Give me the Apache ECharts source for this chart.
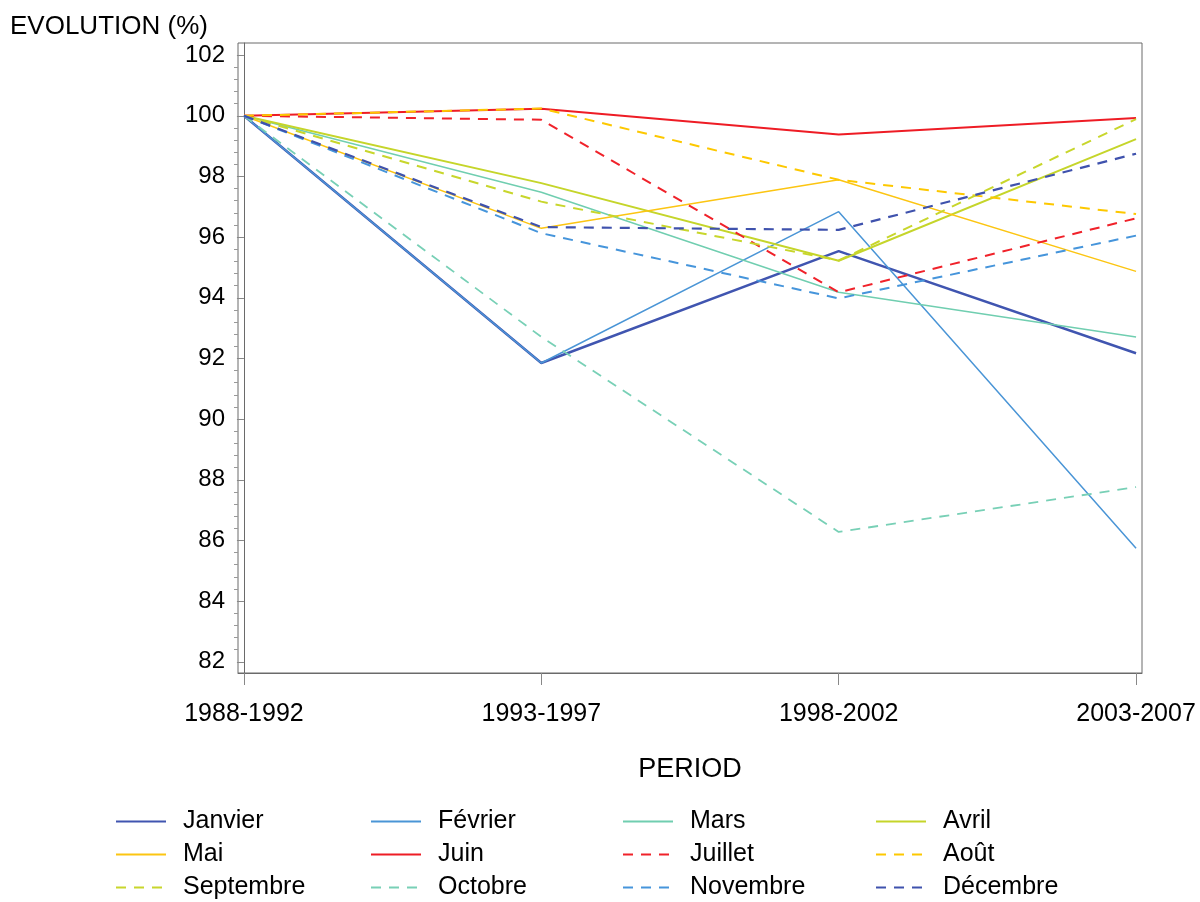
<!DOCTYPE html>
<html><head><meta charset="utf-8">
<script src="https://cdn.jsdelivr.net/npm/echarts@6/dist/echarts.min.js"></script>
<style>html,body{margin:0;padding:0;background:#fff}#c{width:1200px;height:902px}</style>
</head><body><div id="c"></div>
<script>
const periods = ['1988-1992','1993-1997','1998-2002','2003-2007'];
const yTicks = [82,84,86,88,90,92,94,96,98,100,102];
const months = ['Janvier','Février','Mars','Avril','Mai','Juin','Juillet','Août','Septembre','Octobre','Novembre','Décembre'];
const janvier   = [100, 91.85, 95.54, 92.17];
const fevrier   = [100, 91.85, 96.84, 85.74];
const mars      = [100, 97.48, 94.18, 92.71];
const avril     = [100, 97.78, 95.22, 99.23];
const mai       = [100, 96.29, 97.89, 94.87];
const juin      = [100, 100.23, 99.38, 99.93];
const juillet   = [100, 99.87, 94.18, 96.62];
const aout      = [100, 100.24, 97.89, 96.76];
const septembre = [100, 97.17, 95.23, 99.89];
const octobre   = [100, 92.71, 86.28, 87.76];
const novembre  = [100, 96.13, 93.98, 96.05];
const decembre  = [100, 96.33, 96.24, 98.75];
const values = [janvier,fevrier,mars,avril,mai,juin,juillet,aout,septembre,octobre,novembre,decembre];
const colors = ['#4055b0','#4a95d6','#70ceb0','#c5d52a','#fcc512','#ee1c25','#f0222a','#fdc800','#c8d62c','#78d0b6','#4695db','#3f52ad'];
const dashed = [false,false,false,false,false,false,true,true,true,true,true,true];
const widths = [2.5,1.5,1.5,2,1.5,2,2,2,2,1.8,2,2.2];

const minorTicks = [];
for (let v = 82; v < 102; v += 0.4) { const r = Math.round(v*10)/10; if (Math.abs(r/2 - Math.round(r/2)) > 1e-6) minorTicks.push(r); }

const FONT = 'Liberation Sans';
const series = months.map((m,i)=>({
  name:m, type:'line', symbol:'none', silent:true, animation:false,
  data: values[i].map((v,j)=>[j,v]),
  lineStyle:{color:colors[i], width:widths[i], type: dashed[i]?[10,8]:'solid'},
  itemStyle:{color:colors[i]}
}));
const cols = [[0,4,8],[1,5,9],[2,6,10],[3,7,11]];
const colLeft = [115,370,622,875];
const legends = cols.map((c,k)=>({
  orient:'vertical', left:colLeft[k], top:809, height:120, padding:0,
  itemWidth:50, itemHeight:14, itemGap:8,
  data:c.map(i=>months[i]), selectedMode:false,
  itemStyle:{opacity:0},
  textStyle:{fontFamily:FONT, fontSize:25, color:'#000', padding:[0,0,0,12]}
}));
const chart = echarts.init(document.getElementById('c'));
chart.setOption({
  animation:false,
  title:{text:'EVOLUTION (%)', left:10, top:14, padding:0, textStyle:{fontFamily:FONT,fontSize:26,fontWeight:'normal',color:'#000'}},
  legend:legends,
  grid:{left:238, right:58, top:43, bottom:229, show:true, borderColor:'#6a6a6a', borderWidth:1},
  xAxis:{type:'value', min:-0.02, max:3.02,
    name:'PERIOD', nameLocation:'middle', nameGap:83,
    nameTextStyle:{fontFamily:FONT,fontSize:27,color:'#000'},
    axisLine:{show:true,lineStyle:{color:'#6a6a6a'}},
    axisTick:{show:true, customValues:[0,1,2,3], length:12, inside:false, lineStyle:{color:'#888'}},
    axisLabel:{customValues:[0,1,2,3], formatter:v=>periods[Math.round(v)], margin:29, fontFamily:FONT, fontSize:25, color:'#000'},
    splitLine:{show:false}},
  yAxis:[{type:'value', min:81.63, max:102.4,
    axisLine:{show:true,lineStyle:{color:'#6a6a6a'}},
    axisTick:{show:true, customValues:yTicks, length:7, lineStyle:{color:'#888'}},
    axisLabel:{customValues:yTicks, margin:13, fontFamily:FONT, fontSize:24, color:'#000'},
    splitLine:{show:false}},
   {type:'value', min:81.63, max:102.4, position:'left',
    axisLine:{show:false},
    axisTick:{show:true, customValues:minorTicks, length:4, lineStyle:{color:'#999'}},
    axisLabel:{show:false}, splitLine:{show:false}}],
  series:series
});
</script></body></html>
